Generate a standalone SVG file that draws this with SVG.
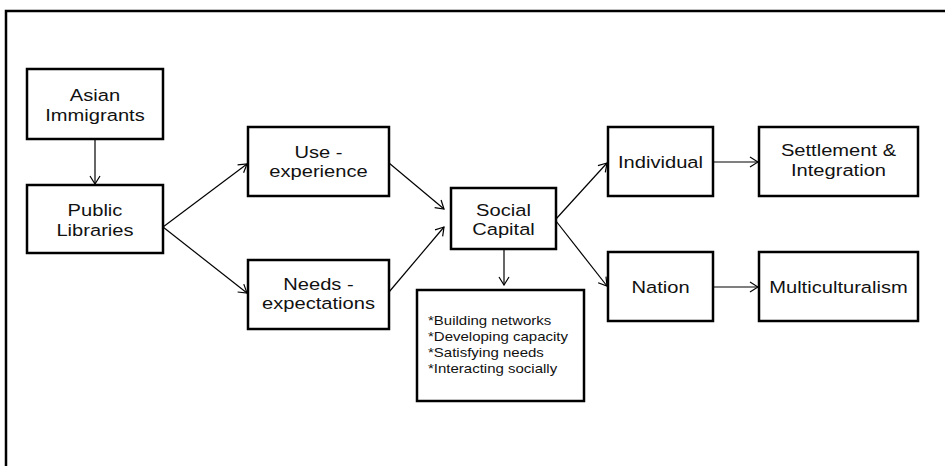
<svg xmlns="http://www.w3.org/2000/svg" width="945" height="466" viewBox="0 0 945 466">
<defs>
<style>
.box{fill:#fff;stroke:#000;stroke-width:2.5}
.t{font-family:"Liberation Sans",Arial,sans-serif;font-size:16.5px;fill:#111;text-anchor:middle}
.b{font-family:"Liberation Sans",Arial,sans-serif;font-size:12.5px;fill:#111}
.c{fill:none;stroke:#000;stroke-width:1.2}
</style>
<marker id="ah" markerWidth="10" markerHeight="12" refX="9" refY="6" orient="auto" markerUnits="userSpaceOnUse">
<path d="M1,1 L9,6 L1,11" fill="none" stroke="#000" stroke-width="1.2"/>
</marker>
</defs>
<rect width="945" height="466" fill="#fff"/>
<rect x="6" y="11" width="960" height="480" fill="none" stroke="#000" stroke-width="2.5"/>
<g id="connectors">
<line class="c" x1="95" y1="139" x2="95" y2="184" marker-end="url(#ah)"/>
<line class="c" x1="163" y1="227" x2="247" y2="164" marker-end="url(#ah)"/>
<line class="c" x1="163" y1="227" x2="247" y2="293" marker-end="url(#ah)"/>
<line class="c" x1="389" y1="163" x2="444" y2="209" marker-end="url(#ah)"/>
<line class="c" x1="389" y1="292" x2="444" y2="227" marker-end="url(#ah)"/>
<line class="c" x1="556" y1="219" x2="607" y2="163" marker-end="url(#ah)"/>
<line class="c" x1="556" y1="221" x2="607" y2="286" marker-end="url(#ah)"/>
<line class="c" x1="504" y1="249" x2="504" y2="285" marker-end="url(#ah)"/>
<line class="c" x1="713" y1="162" x2="758" y2="162" marker-end="url(#ah)"/>
<line class="c" x1="713" y1="287" x2="758" y2="287" marker-end="url(#ah)"/>
</g>
<g id="asian">
<rect class="box" x="27" y="69" width="136" height="70"/>
<g transform="translate(95,0) scale(1.22,1)"><text class="t" x="0" y="100.7">Asian</text><text class="t" x="0" y="121">Immigrants</text></g>
</g>
<g id="public">
<rect class="box" x="27" y="185" width="136" height="68"/>
<g transform="translate(95,0) scale(1.22,1)"><text class="t" x="0" y="215.7">Public</text><text class="t" x="0" y="235.7">Libraries</text></g>
</g>
<g id="use">
<rect class="box" x="248" y="127" width="141" height="69"/>
<g transform="translate(318.5,0) scale(1.22,1)"><text class="t" x="0" y="157.7">Use -</text><text class="t" x="0" y="177.3">experience</text></g>
</g>
<g id="needs">
<rect class="box" x="248" y="260" width="141" height="69"/>
<g transform="translate(318.5,0) scale(1.22,1)"><text class="t" x="0" y="290">Needs -</text><text class="t" x="0" y="309.5">expectations</text></g>
</g>
<g id="social">
<rect class="box" x="451" y="188" width="105" height="61"/>
<g transform="translate(503.5,0) scale(1.22,1)"><text class="t" x="0" y="215.7">Social</text><text class="t" x="0" y="235.3">Capital</text></g>
</g>
<g id="bullets">
<rect class="box" x="417" y="290" width="167" height="111"/>
<g transform="translate(428,0) scale(1.2,1)">
<text class="b" x="0" y="325.5">*Building  networks</text>
<text class="b" x="0" y="341.5">*Developing  capacity</text>
<text class="b" x="0" y="357.5">*Satisfying needs</text>
<text class="b" x="0" y="373.5">*Interacting socially</text>
</g>
</g>
<g id="individual">
<rect class="box" x="608" y="127" width="105" height="69"/>
<g transform="translate(660.5,0) scale(1.22,1)"><text class="t" x="0" y="167.8">Individual</text></g>
</g>
<g id="settlement">
<rect class="box" x="759" y="127" width="159" height="69"/>
<g transform="translate(838.5,0) scale(1.22,1)"><text class="t" x="0" y="156">Settlement &amp;</text><text class="t" x="0" y="176.5">Integration</text></g>
</g>
<g id="nation">
<rect class="box" x="608" y="252" width="105" height="69"/>
<g transform="translate(660.5,0) scale(1.22,1)"><text class="t" x="0" y="292.8">Nation</text></g>
</g>
<g id="multi">
<rect class="box" x="759" y="252" width="159" height="69"/>
<g transform="translate(838.5,0) scale(1.22,1)"><text class="t" x="0" y="292.8">Multiculturalism</text></g>
</g>
</svg>
